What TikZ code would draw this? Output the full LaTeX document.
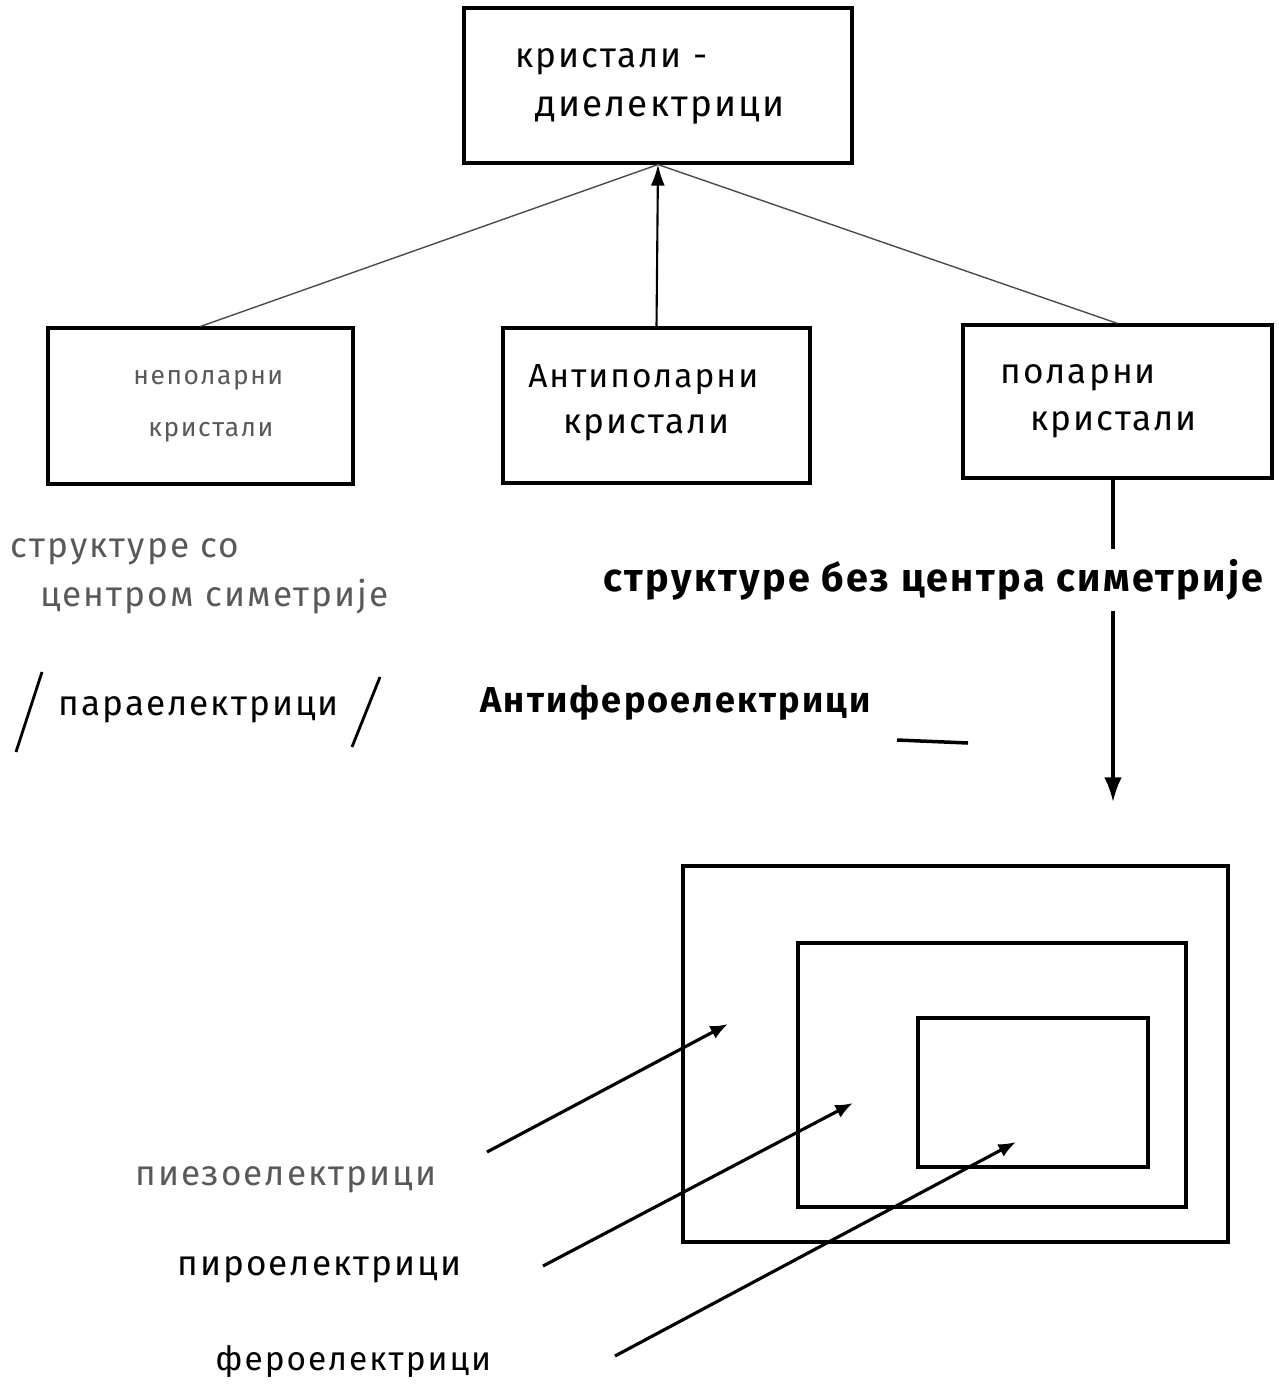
\documentclass[tikz,border=0pt]{standalone}
\usepackage{fontspec}
\setmainfont{Fira Sans}
\newfontfamily\hand[LetterSpace=6]{Fira Sans}
\usetikzlibrary{arrows.meta}
\tikzset{
  box/.style={draw, line width=1.8pt, inner sep=0pt},
  lbl/.style={anchor=west, inner sep=0pt, font=\hand\fontsize{20}{24}\selectfont},
  pale/.style={lbl, text=black!65},
  heavy/.style={lbl, font=\hand\fontsize{22.5}{26}\selectfont\bfseries},
  faint/.style={line width=0.8pt, black!70},
  conn/.style={line width=1.2pt, -{Latex[length=12pt,width=8pt]}},
  ray/.style={line width=1.8pt, -{Latex[length=10pt,width=8pt]}}
}
\begin{document}
\begin{tikzpicture}[x=0.02cm,y=-0.02cm]
\useasboundingbox (0,0) rectangle (1278,1388);

% top box and the three classes of crystals
\node[box, minimum width=7.76cm, minimum height=3.1cm] (top) at (658,85.5) {};
\node[box, minimum width=6.1cm, minimum height=3.12cm] (left) at (200.5,406) {};
\node[box, minimum width=6.14cm, minimum height=3.1cm] (mid) at (656.5,405.5) {};
\node[box, minimum width=6.18cm, minimum height=3.06cm] (right) at (1117.5,401.5) {};

\node[lbl] (t1) at (515,62) {кристали -};
\node[lbl, font=\hand\fontsize{21}{24}\selectfont] (t2) at (535,110) {диелектрици};
\node[pale, font=\hand\fontsize{15}{18}\selectfont] (l1) at (133,380) {неполарни};
\node[pale, font=\hand\fontsize{15}{18}\selectfont] (l2) at (148,432) {кристали};
\node[lbl, font=\hand\fontsize{19}{24}\selectfont] (m1) at (528,380) {Антиполарни};
\node[lbl] (m2) at (563,428) {кристали};
\node[lbl] (r1) at (1000,378) {поларни};
\node[lbl] (r2) at (1030,425) {кристали};

% links to the top box
\draw[faint] (top.south) -- (left.north);
\draw[faint] (top.south) -- (right.north);
\draw[conn] (mid.north) -- (top.south);

% polar branch
\coordinate (polarEnd) at (1113,802);
\draw[line width=1.8pt, -{Latex[length=14pt,width=10pt]}] (right.south -| polarEnd) -- (polarEnd);
\node[heavy, fill=white, inner ysep=6pt] (bez) at (603,580) {структуре без центра симетрије};

% left-hand notes
\node[pale] (s1) at (10,552) {структуре со};
\node[pale] (s2) at (40,597) {центром симетрије};
\node[lbl] (para) at (58,710) {параелектрици};
\draw[line width=1.6pt] (16,752) -- (42,672);
\draw[line width=1.6pt] (352,747) -- (380,677);
\node[lbl, font=\hand\fontsize{20.5}{24}\selectfont\bfseries] (anti) at (480,703) {Антифероелектрици};
\draw[line width=2pt] (897,740) -- (968,743);

% nested classes
\node[box, minimum width=10.9cm, minimum height=7.52cm] (outer) at (955.5,1054) {};
\node[box, minimum width=7.76cm, minimum height=5.28cm] (middle) at (992,1075) {};
\node[box, minimum width=4.6cm, minimum height=2.98cm] (inner) at (1033,1092.5) {};

\node[pale] (pz) at (135,1180) {пиезоелектрици};
\node[lbl] (py) at (177,1270) {пироелектрици};
\node[lbl, font=\hand\fontsize{19}{24}\selectfont] (fe) at (215,1362) {фероелектрици};

\coordinate (a1) at (487,1152);
\coordinate (b1) at (728,1024);
\coordinate (a2) at (543,1266);
\coordinate (b2) at (853,1103);
\coordinate (a3) at (615,1356);
\coordinate (b3) at (1016,1142);
\draw[ray] (a1) -- (b1);
\draw[ray] (a2) -- (b2);
\draw[ray] (a3) -- (b3);
\end{tikzpicture}
\end{document}
